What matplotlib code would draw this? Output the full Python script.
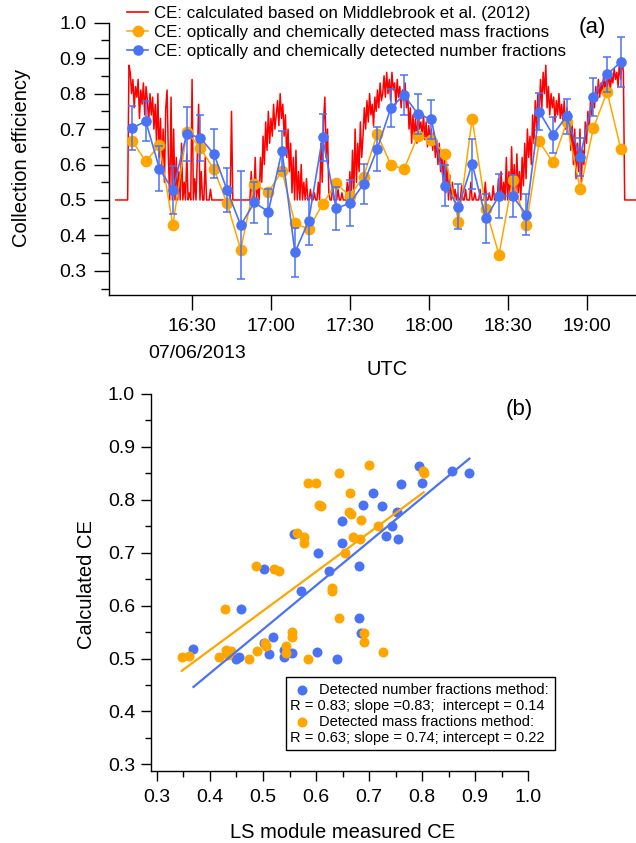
import numpy as np
import matplotlib
matplotlib.use('Agg')
import matplotlib.pyplot as plt
from matplotlib.ticker import MultipleLocator, FormatStrFormatter
from matplotlib.patches import Rectangle
from matplotlib.lines import Line2D

plt.rcParams['font.family'] = ['Liberation Sans', 'DejaVu Sans']

RED = '#ff0000'
ORANGE = '#ffa500'
BLUE = '#4a72f5'
W, H = 636, 843

# ---- panel (a): time series, minutes after 16:00 UTC ----
red_start = 1.0        # first sample of the Middlebrook CE
red_step = 0.5         # one sample every 30 s
red_ce = [
    0.50, 0.50, 0.50, 0.50, 0.50, 0.50, 0.50, 0.50, 0.50, 0.50,
    0.88, 0.86, 0.80, 0.84, 0.76, 0.82, 0.79, 0.84, 0.73, 0.81,
    0.77, 0.83, 0.74, 0.82, 0.78, 0.72, 0.80, 0.74, 0.79, 0.70,
    0.77, 0.66, 0.80, 0.62, 0.73, 0.58, 0.70, 0.55, 0.76, 0.81,
    0.62, 0.50, 0.79, 0.50, 0.70, 0.50, 0.62, 0.50, 0.58, 0.50,
    0.66, 0.50, 0.55, 0.50, 0.63, 0.50, 0.52, 0.50, 0.84, 0.50,
    0.56, 0.50, 0.62, 0.77, 0.50, 0.58, 0.50, 0.50, 0.62, 0.50,
    0.50, 0.50, 0.53, 0.50, 0.50, 0.50, 0.50, 0.50, 0.50, 0.50,
    0.50, 0.50, 0.50, 0.50, 0.50, 0.50, 0.50, 0.50, 0.75, 0.50,
    0.50, 0.50, 0.50, 0.50, 0.50, 0.50, 0.50, 0.50, 0.50, 0.50,
    0.50, 0.50, 0.50, 0.58, 0.50, 0.50, 0.62, 0.50, 0.55, 0.50,
    0.62, 0.55, 0.68, 0.60, 0.72, 0.64, 0.75, 0.66, 0.73, 0.68,
    0.77, 0.70, 0.74, 0.78, 0.71, 0.80, 0.73, 0.77, 0.68, 0.74,
    0.62, 0.70, 0.58, 0.66, 0.52, 0.62, 0.50, 0.64, 0.50, 0.58,
    0.50, 0.60, 0.50, 0.55, 0.50, 0.56, 0.50, 0.50, 0.53, 0.50,
    0.50, 0.52, 0.50, 0.50, 0.55, 0.50, 0.66, 0.55, 0.72, 0.79,
    0.62, 0.70, 0.52, 0.50, 0.50, 0.54, 0.50, 0.50, 0.50, 0.53,
    0.50, 0.50, 0.52, 0.50, 0.50, 0.50, 0.55, 0.50, 0.58, 0.50,
    0.64, 0.52, 0.70, 0.55, 0.66, 0.58, 0.72, 0.62, 0.68, 0.76,
    0.70, 0.78, 0.72, 0.80, 0.74, 0.77, 0.71, 0.79, 0.75, 0.81,
    0.76, 0.83, 0.78, 0.80, 0.85, 0.79, 0.86, 0.80, 0.84, 0.78,
    0.86, 0.81, 0.83, 0.77, 0.84, 0.79, 0.82, 0.76, 0.81, 0.78,
    0.83, 0.76, 0.80, 0.70, 0.76, 0.66, 0.74, 0.68, 0.73, 0.66,
    0.75, 0.70, 0.72, 0.68, 0.74, 0.67, 0.72, 0.65, 0.71, 0.67,
    0.70, 0.64, 0.69, 0.62, 0.67, 0.60, 0.66, 0.58, 0.64, 0.55,
    0.62, 0.52, 0.60, 0.50, 0.57, 0.50, 0.55, 0.50, 0.53, 0.50,
    0.52, 0.50, 0.50, 0.54, 0.50, 0.50, 0.53, 0.50, 0.50, 0.50,
    0.55, 0.50, 0.50, 0.52, 0.50, 0.50, 0.50, 0.53, 0.50, 0.50,
    0.50, 0.55, 0.50, 0.50, 0.52, 0.50, 0.50, 0.54, 0.50, 0.50,
    0.50, 0.56, 0.50, 0.58, 0.50, 0.55, 0.50, 0.62, 0.50, 0.58,
    0.50, 0.65, 0.52, 0.60, 0.50, 0.63, 0.52, 0.58, 0.50, 0.62,
    0.54, 0.66, 0.56, 0.70, 0.62, 0.68, 0.60, 0.74, 0.66, 0.78,
    0.70, 0.80, 0.74, 0.84, 0.76, 0.86, 0.80, 0.88, 0.76, 0.82,
    0.74, 0.80, 0.76, 0.79, 0.72, 0.78, 0.74, 0.80, 0.73, 0.77,
    0.72, 0.78, 0.70, 0.76, 0.72, 0.75, 0.64, 0.72, 0.60, 0.70,
    0.56, 0.66, 0.58, 0.70, 0.55, 0.64, 0.60, 0.72, 0.66, 0.75,
    0.70, 0.78, 0.74, 0.80, 0.76, 0.82, 0.78, 0.84, 0.79, 0.83,
    0.80, 0.85, 0.81, 0.84, 0.82, 0.86, 0.81, 0.85, 0.83, 0.87,
    0.84, 0.86, 0.82, 0.89, 0.84, 0.90, 0.86, 0.50, 0.50, 0.50,
    0.50, 0.50, 0.50, 0.50, 0.50, 0.50, 0.50,
]

obs_time = [7.2, 12.4, 17.6, 22.7, 28.0, 33.1, 38.3, 43.3, 48.5, 53.7,
            59.0, 64.2, 69.1, 74.3, 79.6, 84.8, 90.0, 95.2, 100.4, 105.6,
            110.6, 115.8, 121.0, 126.1, 131.3, 136.5, 141.7, 146.7, 151.9, 157.1,
            162.0, 167.2, 172.4, 177.6, 182.6, 187.8, 193.0]
ce_number = [0.703, 0.722, 0.588, 0.528, 0.687, 0.675, 0.630, 0.528, 0.429, 0.493,
             0.467, 0.639, 0.352, 0.440, 0.677, 0.476, 0.491, 0.545, 0.644, 0.760,
             0.796, 0.743, 0.727, 0.540, 0.481, 0.602, 0.448, 0.512, 0.511, 0.459,
             0.749, 0.684, 0.736, 0.621, 0.791, 0.854, 0.889]
ce_number_err = [0.062, 0.056, 0.063, 0.068, 0.076, 0.066, 0.069, 0.063, 0.153, 0.059,
                 0.064, 0.056, 0.068, 0.066, 0.066, 0.062, 0.064, 0.057, 0.061, 0.053,
                 0.057, 0.056, 0.054, 0.058, 0.063, 0.071, 0.069, 0.062, 0.060, 0.059,
                 0.052, 0.051, 0.049, 0.053, 0.053, 0.049, 0.070]
ce_mass = [0.667, 0.609, 0.655, 0.429, 0.692, 0.647, 0.587, 0.491, 0.360, 0.545,
           0.522, 0.582, 0.434, 0.418, 0.488, 0.547, 0.511, 0.566, 0.686, 0.599,
           0.587, 0.680, 0.670, 0.630, 0.439, 0.729, 0.474, 0.346, 0.557, 0.429,
           0.665, 0.606, 0.719, 0.530, 0.703, 0.805, 0.645]

tick_minutes = [30, 60, 90, 120, 150, 180]
tick_labels = ['16:30', '17:00', '17:30', '18:00', '18:30', '19:00']

# ---- panel (b): scatter, LS module measured CE vs calculated CE ----
ls_number = [0.369, 0.458, 0.449, 0.455, 0.432, 0.501, 0.501, 0.518, 0.512, 0.540,
             0.540, 0.554, 0.559, 0.572, 0.601, 0.604, 0.625, 0.639, 0.648, 0.649,
             0.681, 0.681, 0.684, 0.688, 0.708, 0.725, 0.732, 0.794, 0.761, 0.800,
             0.856, 0.889, 0.753, 0.744, 0.754]
calc_number = [0.518, 0.594, 0.499, 0.503, 0.510, 0.669, 0.530, 0.541, 0.508, 0.516,
               0.502, 0.510, 0.735, 0.628, 0.512, 0.699, 0.666, 0.499, 0.760, 0.718,
               0.675, 0.576, 0.549, 0.791, 0.812, 0.788, 0.732, 0.864, 0.830, 0.831,
               0.855, 0.851, 0.777, 0.750, 0.725]
ls_mass = [0.347, 0.360, 0.417, 0.430, 0.439, 0.435, 0.429, 0.474, 0.487, 0.489,
           0.504, 0.506, 0.521, 0.530, 0.543, 0.543, 0.554, 0.554, 0.565, 0.578,
           0.578, 0.584, 0.585, 0.600, 0.606, 0.609, 0.630, 0.631, 0.644, 0.644,
           0.654, 0.664, 0.663, 0.665, 0.669, 0.683, 0.684, 0.690, 0.690, 0.700,
           0.717, 0.727, 0.802, 0.803]
calc_mass = [0.502, 0.505, 0.503, 0.517, 0.515, 0.506, 0.594, 0.499, 0.675, 0.514,
             0.530, 0.524, 0.669, 0.666, 0.524, 0.510, 0.551, 0.541, 0.737, 0.729,
             0.719, 0.499, 0.831, 0.831, 0.791, 0.788, 0.633, 0.628, 0.851, 0.576,
             0.700, 0.812, 0.777, 0.773, 0.730, 0.725, 0.762, 0.549, 0.531, 0.865,
             0.750, 0.513, 0.855, 0.851]
fit_number = (0.83, 0.14)   # slope, intercept
fit_mass = (0.74, 0.22)


def fx(px):
    return px / W


def fy(py):
    return 1 - py / H


fig = plt.figure(figsize=(W / 100, H / 100), dpi=100)

# ---------------- panel (a) ----------------
ax1 = fig.add_axes([fx(108.7), fy(295), 1 - fx(108.7), (295 - 22.7) / H])
red_t = red_start + red_step * np.arange(len(red_ce))
ax1.plot(red_t, red_ce, color=RED, lw=1.1, zorder=2)
ax1.plot(obs_time, ce_mass, '-o', color=ORANGE, lw=1.1, ms=7.4, zorder=3)
ax1.errorbar(obs_time, ce_number, yerr=ce_number_err, fmt='-o', color=BLUE,
             lw=1.2, ms=6.6, elinewidth=1.1, capsize=3, capthick=1.1, zorder=4)

ax1.set_xlim(-1.7, 198.8)
ax1.set_ylim(0.232, 1.0)
ax1.set_xticks(tick_minutes, tick_labels)
ax1.yaxis.set_major_locator(MultipleLocator(0.1))
ax1.yaxis.set_minor_locator(MultipleLocator(0.05))
ax1.yaxis.set_major_formatter(FormatStrFormatter('%.1f'))
for s in ['top', 'right']:
    ax1.spines[s].set_visible(False)
for s in ['left', 'bottom']:
    ax1.spines[s].set_linewidth(1.0)
ax1.tick_params(axis='both', which='major', direction='out', length=10.5, width=1.0,
                labelsize=14)
ax1.tick_params(axis='y', which='minor', direction='out', length=6, width=1.0)
ax1.tick_params(axis='y', which='major', pad=5.5)
ax1.tick_params(axis='x', which='major', pad=6)

handles = [
    Line2D([], [], color=RED, lw=1.2),
    Line2D([], [], color=ORANGE, lw=1.1, marker='o', ms=7.4),
    Line2D([], [], color=BLUE, lw=1.2, marker='o', ms=6.6),
]
labels = [
    'CE: calculated based on Middlebrook et al. (2012)',
    'CE: optically and chemically detected mass fractions',
    'CE: optically and chemically detected number fractions',
]
fig.legend(handles, labels, loc='upper left', bbox_to_anchor=(fx(127), fy(6)),
           frameon=False, fontsize=12.2, handlelength=1.25, handletextpad=0.35,
           labelspacing=0.24, borderpad=0, borderaxespad=0)

fig.text(fx(22), fy(158), 'Collection efficiency', rotation=90, ha='center',
         va='center', fontsize=14.5)
fig.text(fx(197), fy(354), '07/06/2013', ha='center', va='center', fontsize=14)
fig.text(fx(387), fy(370), 'UTC', ha='center', va='center', fontsize=14.5)
fig.text(fx(592), fy(28), '(a)', ha='center', va='center', fontsize=16)

# ---------------- panel (b) ----------------
ax2 = fig.add_axes([fx(151), fy(770.7), (528.3 - 151) / W, (770.7 - 394) / H])
ax2.plot(ls_number, calc_number, 'o', color=BLUE, ms=7.2, mec='none', zorder=3)
ax2.plot(ls_mass, calc_mass, 'o', color=ORANGE, ms=7.2, mec='none', zorder=3)

xb = np.array([min(ls_number), max(ls_number)])
ax2.plot(xb, fit_number[0] * xb + fit_number[1], color=BLUE, lw=1.6, zorder=4)
xo = np.array([min(ls_mass), max(ls_mass)])
ax2.plot(xo, fit_mass[0] * xo + fit_mass[1], color=ORANGE, lw=1.6, zorder=4)

ax2.set_xlim(0.289, 1.0)
ax2.set_ylim(0.288, 1.0)
for axis in (ax2.xaxis, ax2.yaxis):
    axis.set_major_locator(MultipleLocator(0.1))
    axis.set_minor_locator(MultipleLocator(0.05))
    axis.set_major_formatter(FormatStrFormatter('%.1f'))
for s in ['top', 'right']:
    ax2.spines[s].set_visible(False)
for s in ['left', 'bottom']:
    ax2.spines[s].set_linewidth(1.0)
ax2.tick_params(axis='both', which='major', direction='out', length=7.5, width=1.0,
                labelsize=14)
ax2.tick_params(axis='both', which='minor', direction='out', length=4, width=1.0)
ax2.tick_params(axis='y', which='major', pad=4)
ax2.tick_params(axis='x', which='major', pad=6)

fig.text(fx(343), fy(832), 'LS module measured CE', ha='center', va='center',
         fontsize=14.5)
fig.text(fx(86), fy(585), 'Calculated CE', rotation=90, ha='center', va='center',
         fontsize=14.5)
fig.text(fx(519), fy(410), '(b)', ha='center', va='center', fontsize=16)

# fit legend box
fig.patches.append(Rectangle((fx(286), fy(750)), fx(555) - fx(286), fy(677) - fy(750),
                             transform=fig.transFigure, fill=False, ec='black', lw=1.0))
fig.lines.append(Line2D([fx(302)], [fy(690)], marker='o', color=BLUE, ms=7.2,
                        mec='none', transform=fig.transFigure))
fig.lines.append(Line2D([fx(302)], [fy(722)], marker='o', color=ORANGE, ms=7.2,
                        mec='none', transform=fig.transFigure))
fs = 10.5
fig.text(fx(319), fy(690), 'Detected number fractions method:', va='center', fontsize=fs)
fig.text(fx(290), fy(706), 'R = 0.83; slope =0.83;  intercept = 0.14', va='center',
         fontsize=fs)
fig.text(fx(319), fy(722), 'Detected mass fractions method:', va='center', fontsize=fs)
fig.text(fx(290), fy(738), 'R = 0.63; slope = 0.74; intercept = 0.22', va='center',
         fontsize=fs)

fig.savefig('out.png', dpi=100)
